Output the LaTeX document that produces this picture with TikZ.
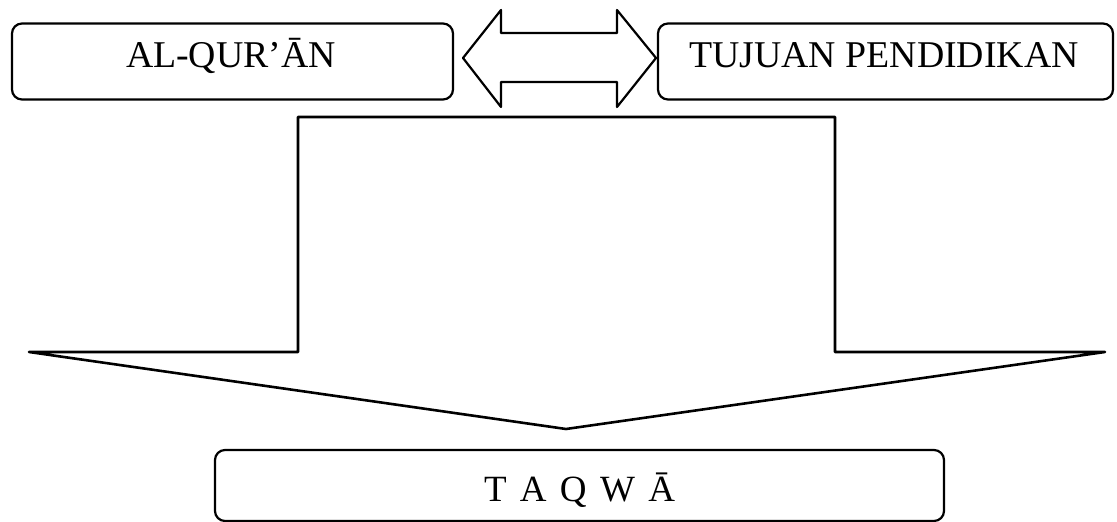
\documentclass[tikz,border=0pt]{standalone}
\usepackage{fontspec}
\setmainfont{Liberation Serif}
\begin{document}
\begin{tikzpicture}[x=0.5pt,y=-0.5pt,
  box/.style={draw, line width=1.1pt, rounded corners=5pt, inner sep=0pt},
  arrowshape/.style={draw, line width=1.1pt, line join=round},
  bigshape/.style={draw, line width=1.3pt, line join=round},
  toptext/.style={anchor=base, inner sep=0pt, font=\fontsize{18.9}{22}\selectfont},
  bottext/.style={anchor=base, inner sep=0pt, font=\fontsize{18.5}{22}\selectfont}]
\useasboundingbox (0,0) rectangle (1117,522);
% boxes
\node[box, minimum width=220.5pt, minimum height=38pt] (quran) at (232.5,61.5) {};
\node[box, minimum width=227.5pt, minimum height=38pt] (tujuan) at (885.5,61.5) {};
\node[box, minimum width=364.5pt, minimum height=35.5pt] (taqwa) at (579.5,485.5) {};
% texts
\node[toptext] (tquran) at (231,68) {AL-QUR’ĀN};
\node[toptext] (ttujuan) at (884,68) {TUJUAN PENDIDIKAN};
\node[bottext] (ttaqwa) at (579.5,502) {T\hspace{0.36em}A\hspace{0.36em}Q\hspace{0.36em}W\hspace{0.36em}Ā};
% double arrow between the two top boxes
\draw[arrowshape] (463,58) -- (501,10) -- (501,33) -- (617,33) -- (617,10) -- (656,58)
  -- (617,107) -- (617,82) -- (501,82) -- (501,107) -- cycle;
% big downward arrow
\draw[bigshape] (29,352) -- (298,352) -- (298,117) -- (835,117) -- (835,352)
  -- (1105,352) -- (566,429) -- cycle;
\end{tikzpicture}
\end{document}
